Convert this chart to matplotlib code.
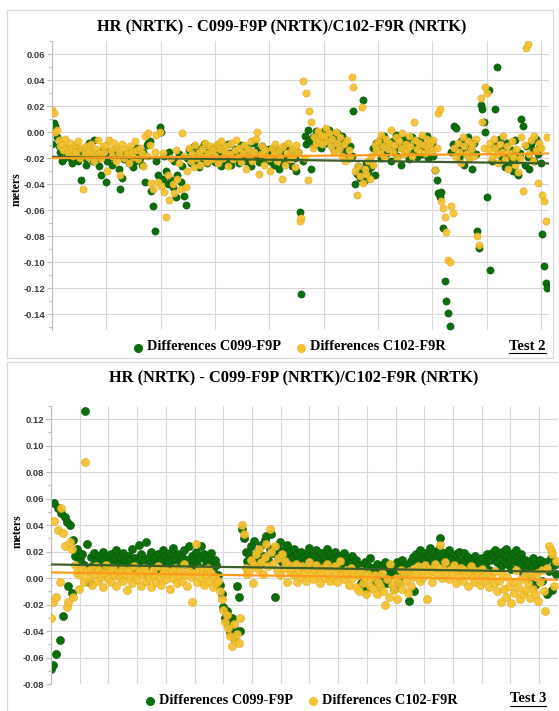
import matplotlib
matplotlib.use("Agg")
import matplotlib.pyplot as plt
import numpy as np
from matplotlib.lines import Line2D
from matplotlib.patches import Rectangle
from matplotlib.ticker import FormatStrFormatter, MultipleLocator

plt.rcParams['axes.unicode_minus'] = False

# ---------------- DATA (values in millimetres) -------------
title_text = "HR (NRTK) - C099-F9P (NRTK)/C102-F9R (NRTK)"
series_names = ["Differences C099-F9P", "Differences C102-F9R"]
test_labels = ["Test 2", "Test 3"]

# Test 2 (top panel)
t2_c099 = [-9, 7, 5, -4, -11, -15, -22, -21, -12, -17, -14, -20, -24, -16, -11, -19, -22, -14, -37, -16,
           -20, -25, -12, -8, -18, -22, -6, -16, -20, -26, -33, -14, -18,
           -38, -22, -15, -18, -25, -20, -13, -17, -28, -44, -35, -21, -16, -19, -24, -14, -18, -27, -22, -12,
           -17, -20, -25, -15, -38, -10, -8, -7, -45, -57, -76, -22, -33,
           4, 0, -36, -18, -30, -40, -15, -37, -42, -22, -50, -33, -17, -38, -26, -49, -56, -20, -14, -24,
           -19, -11, -22, -16, -27, -13, -20, -9, -18, -24, -15, -21, -12, -19,
           -23, -17, -11, -20, -26, -14, -18, -22, -9, -16, -25, -19, -13, -21, -17, -24, -10, -18, -15, -22,
           -12, -19, -26, -16, -8, -20, -14, -23, -17, -11, -21, -15, -19,
           -13, -22, -17, -25, -12, -20, -28, -15, -19, -24, -11, -18, -22, -14, -26, -17, -20, -30, -15, -61,
           -124, -22, -3, -9, 2, -6, -28, -4, -10, 1, -7, -2, -12,
           -5, 1, -8, -3, 2, -10, -4, -14, -6, -1, -12, -9, -3, -16, -7, -12, -20, -11, -18, 16,
           -40, -32, -26, -35, -29, 25, -37, -24, -31, -22, -27, -12, -33, -8,
           -15, -6, -20, -11, -3, -17, -9, -13, -22, -7, -14, -2, -18, -10, -25, -12, -5, -16, -8, -21,
           -13, -4, -15, -9, -19, -11, -6, -17, -10, -14, -3, -20, -12,
           -8, -18, -29, -37, -47, -50, -46, -74, -114, -130, -139, -149, -15, -9, 5, 3, -12, -20, -7, -16,
           -25, -11, -4, -19, -13, -28, -8, -17, -76, -89, 21, 18, 8, 0,
           -50, 32, -106, -22, -10, 18, 50, -15, -5, -20, -12, -27, -8, -18, -24, -14, -30, -6, -21, -33,
           -16, 10, 5, -25, -11, -19, -28, -9, -14, -22, -5, -17, -12, -24, -78, -103, -116, -120]
t2_c102 = [17, 15, 0, 2, -6, -11, -9, -14, -5, -12, -16, -8, -13, -18, -10, -15, -7, -20, -12, -44,
           -16, -11, -19, -14, -9, -17, -22, -13, -6, -16, -20, -11, -15,
           -10, -30, -6, -14, -18, -8, -22, -12, -16, -33, -9, -20, -13, -17, -24, -11, -15, -19, -7, -14,
           -21, -12, -16, -26, -3, -18, -1, -10, -39, -44, -15, -2, -38,
           0, -41, -16, -46, -65, -33, -52, -20, -40, -47, -14, -36, -24, -44, -1, -18, -42, -30, -12, -22,
           -17, -27, -10, -20, -15, -25, -13, -19, -8, -23, -16, -11, -21, -14,
           -18, -9, -24, -13, -7, -20, -15, -11, -26, -17, -8, -21, -14, -6, -19, -12, -23, -16, -10, -28,
           -13, -18, -7, -22, -15, -5, 0, -32, -17, -11, -25, -14, -19,
           -20, -30, -12, -17, -9, -22, -14, -19, -36, -11, -25, -16, -8, -21, -13, -18, -27, -10, -15, -68,
           -66, 39, -20, 30, -37, 16, 8, -12, -4, -8, 1, -6, -2,
           -9, -3, 3, -7, -1, -11, -5, -15, 0, -8, -13, -4, -18, -9, -22, -6, -14, -19, 42, 35,
           -30, -48, -26, -34, 19, -39, -28, -32, -22, -36, -18, -25, -10, -14,
           -7, -16, -2, -11, -19, -5, -13, -8, 2, -15, -10, -4, -20, -7, -12, -1, -17, -9, -14, -3,
           -11, -18, 8, -6, -13, -8, -15, -2, -10, -16, -5, -12, -9,
           -14, -6, -29, -12, 15, 18, -53, -58, -65, -77, -98, -100, -57, -62, -12, -19, -8, -15, -24, -4,
           -11, -17, -7, -21, -13, -9, -18, -5, -80, -87, 26, 8, -12, 35,
           30, -14, -8, -20, -5, -12, -17, -24, -9, -15, -3, -21, -11, -28, -16, -7, -19, -25, -13, -31,
           -20, -4, -45, -10, 65, 68, -17, -6, -22, -3, -14, -39, -8, -12, -48, -53, -68, -4]
t2_trend_c099 = [-19, -24]   # start, end of linear trend
t2_trend_c102 = [-20, -16.5]

# Test 3 (bottom panel)
t3_c099 = [-69, -66, 57, -57, 53, -47, 49, -29, 46, 42, -6, 40, -11, 29, 17, 22, 15,
           14, 18, 10, 126, 26, -3, 16, 9, 19, 13, 7, 17, 11, 20, 14, 8, 16,
           12, 18, 9, 15, 21, 11, 16, 7, 19, 13, 10, 17, 14, 22, 8, 15, 12, 25, 18, 10,
           14, 27, 9, 16, 20, 12, 15, 6, 18, 11, 14, 21, 9, 17, 13, 19, 10, 23, 15, 8,
           18, 12, 16, 21, 11, 14, 24, 9, 17, 13, 20, 10, 15, 24, 8, 18, 13, 16, 11, 19, 7, 14, 10,
           2, -5, -12, -22, -30, -25, -35, -41, -30, -45, -39, -6, -14, -40, 37, 30, 20, 13,
           18, 24, 12, 28, 15, 20, 10, 25, 17, 29, 32, 14, 22, 33, 19, -14, 23, 16, 27, 12,
           21, 18, 25, 13, 20,
           15, 22, 11, 18, 14, 20, 9, 16, 12, 19, 23, 10, 17, 13, 21, 8, 15, 19, 11, 16,
           22, 12, 18, 9, 14, 20, 11, 17, 7, 13, 19, 10, 15, 5, 12, 17, 8, 14, 3, 10,
           -4, 6, 12, -8, 9, 15, 4,
           8, -2, 11, 4, -6, 9, 1, 12, -4, 7, 2, 10, -8, 5, 12, -3, 8, 14, 3, 10, 6, -17, 13, 16, -10,
           18, 12, 21, 9, 15, 19, 11, 17, 23, 14, 8, 20, 16, 22, 30, 13, 19, 10, 17, 21,
           12, 15, 9, 18, 13, 20, 7, 14, 19, 11, 16, 10, 13, 5, 17, 9, 12, 3, 15, 8, 11, 18, 6, 14, 19,
           16, 21, 12, 18, 9, 20, 14, 22, 11, 17, 7, 19, 13, 21, 15, 10, 18, 4, 14, 8,
           12, 0, 9, 15, -5, 11, 6, 14, -2, 8, 12, -12, 5, 15, -9, 10, 3]
t3_c102 = [-30, -18, 43, -14, 36, -3, 53, 34, 24, -22, -18, 27, 22, -14, 10, 4, -8,
           2, 8, -3, 88, 5, 0, 7, -5, 3, 9, -2, 6, 1, -7, 4, 10, -1,
           5, -3, 8, 2, -6, 4, 0, 7, -2, 3, -9, 6, 1, -4, 9, 2, -1, 5, -6, 3,
           8, -2, 4, 0, -7, 6, 2, -3, 9, 1, -5, 4, 7, -1, 3, -8, 5, 0, 8, -4,
           2, 6, -2, 11, 3, -6, 5, 1, -18, 4, 26, -3, 7, 0, 5, -5, 2, 8, -2, 4, -7, 1, -4,
           -2, -10, -16, -24, -33, -28, -38, -44, -51, -35, -47, -42, -49, -30, 40, 33, 8, 3,
           5, 14, -4, 10, 18, 7, 22, 12, 3, 16, 26, 9, 37, 20, 11, 24, 6, 15, 2, 18, 8, 13, -3, 10, 5,
           8, 2, 11, -3, 6, 1, 9, 4, -2, 7, 12, 3, -1, 6, 10, 2, -4, 5, 8, 0,
           11, 4, -2, 7, 1, 9, -3, 5, 13, 2, -1, 6, 3, -5, 8, 0, 4, -7, 2, -10, 5, -4, 1, -12, 3, -6, 0,
           -8, 2, -12, -3, -6, 4, -10, -20, -1, -14, 11, -5, -9, 0, -16, -4, 6, -8, 3, -2, -11, 5, -6, 1, 7,
           4, 9, -2, 6, 1, 10, -16, 3, 7, -3, 5, 11, 2, 8, 25, 0, 6, 12, 3, -1,
           7, 4, 10, -4, 5, 1, 8, -2, 6, 3, -6, 4, 9, 0, -3, 5, 2, -5, 7, 1, -2, 4, -7, 3, 0,
           -4, 5, -10, -2, -18, 3, -8, -14, 1, -6, -19, -3, -11, 6, -7, -16, -1, -12, 2, -9,
           -4, -15, 2, -8, -12, 4, -17, -3, 6, -10, -25, 8, 24, 21, 18, -6, 13]
t3_trend_c099 = [10.3, 4.8]
t3_trend_c102 = [4.3, -1.3]

# ---------------- STYLE ----------------
GREEN = "#0B6E0B"
GREEN_EDGE = "#095409"
YELLOW = "#F5C12C"
YELLOW_EDGE = "#DDA81E"
TREND_GREEN = "#3B5E2A"
TREND_ORANGE = "#FF9A1A"
GRID = "#D9D9D9"
SERIF = "Liberation Serif"
SANS = "Liberation Sans"

W, H = 559, 711
fig = plt.figure(figsize=(W / 100, H / 100), dpi=100)


def fx(p):
    return p / W


def fy(p):
    return 1 - p / H


# chart-area borders
fig.add_artist(Rectangle((fx(7), fy(358)), fx(553) - fx(7), fy(10) - fy(358),
                         transform=fig.transFigure, fill=False, ec=GRID, lw=0.9))
fig.add_artist(Rectangle((fx(7), fy(720)), fx(570) - fx(7), fy(362) - fy(720),
                         transform=fig.transFigure, fill=False, ec=GRID, lw=0.9))


def panel(rect, g, y, tg, ty, step, xmax, xgrid, ylim, ymaj_lo, ymaj_hi, msize):
    ax = fig.add_axes(rect)
    g = np.asarray(g) / 1000.0
    y = np.asarray(y) / 1000.0
    xg = np.arange(len(g)) * step
    xy = np.arange(len(y)) * step
    ax.scatter(xg, g, s=msize, color=GREEN, edgecolors=GREEN_EDGE, linewidths=0.4, zorder=2)
    ax.scatter(xy, y, s=msize, color=YELLOW, edgecolors=YELLOW_EDGE, alpha=0.93,
               linewidths=0.4, zorder=3)
    xe = [0, xmax]
    ax.plot(xe, np.asarray(tg) / 1000.0, color=TREND_GREEN, lw=1.6, zorder=4)
    ax.plot(xe, np.asarray(ty) / 1000.0, color=TREND_ORANGE, lw=1.6, zorder=5)
    ax.set_xlim(0, xmax)
    ax.set_ylim(*ylim)
    ax.set_xticks(np.arange(0, xmax + 1, xgrid))
    ax.set_yticks(np.arange(ymaj_lo, ymaj_hi + 1e-9, 0.02))
    ax.yaxis.set_minor_locator(MultipleLocator(0.01))
    ax.yaxis.set_major_formatter(FormatStrFormatter('%.2f'))
    ax.grid(True, which='major', color=GRID, lw=0.8)
    ax.set_axisbelow(True)
    for s in ['top', 'right', 'bottom']:
        ax.spines[s].set_visible(False)
    ax.spines['left'].set_color('#BFBFBF')
    ax.spines['left'].set_linewidth(0.8)
    ax.tick_params(axis='x', length=0, labelbottom=False)
    ax.tick_params(axis='y', which='major', length=3.5, width=0.8, color='#BFBFBF',
                   pad=1.5, labelsize=6.8, labelcolor='#3A3A3A')
    ax.tick_params(axis='y', which='minor', length=2.5, width=0.8, color='#BFBFBF')
    for lb in ax.get_yticklabels():
        lb.set_fontfamily(SANS)
        lb.set_fontweight('bold')
    return ax


ax1 = panel([fx(52), fy(330), fx(549) - fx(52), fy(41) - fy(330)],
            t2_c099, t2_c102, t2_trend_c099, t2_trend_c102,
            3, 915, 100, (-0.152, 0.07), -0.14, 0.06, 27)
ax2 = panel([fx(51), fy(684), fx(558) - fx(51), fy(406) - fy(684)],
            t3_c099, t3_c102, t3_trend_c099, t3_trend_c102,
            3, 883, 50, (-0.08, 0.13), -0.08, 0.12, 34)

tkw = dict(family=SERIF, weight='bold', color='black')
fig.text(fx(282), fy(27), title_text, ha='center', va='center', size=11.8, **tkw)
fig.text(fx(294), fy(378), title_text, ha='center', va='center', size=11.8, **tkw)
fig.text(fx(17), fy(189), "meters", rotation=90, ha='center', va='center', size=8.5, **tkw)
fig.text(fx(18), fy(531), "meters", rotation=90, ha='center', va='center', size=8.5, **tkw)


def legend(yc, gx, yx, tlabel, tx0, tx1):
    for mx, col, name in [(gx, GREEN, series_names[0]), (yx, YELLOW, series_names[1])]:
        fig.add_artist(Line2D([fx(mx)], [fy(yc + 1)], marker='o', ms=5.5, color=col,
                              linestyle='', transform=fig.transFigure))
        fig.text(fx(mx + 9), fy(yc), name, ha='left', va='center', size=10.3, **tkw)
    fig.text(fx(tx0), fy(yc - 1), tlabel, ha='left', va='center', size=10.5, **tkw)
    fig.add_artist(Line2D([fx(tx0), fx(tx1)], [fy(yc + 6), fy(yc + 6)], color='black',
                          lw=0.8, transform=fig.transFigure))


legend(347, 138, 301, test_labels[0], 509, 546)
legend(700, 150, 313, test_labels[1], 510, 546)

fig.savefig("out.png", dpi=100, facecolor='white')
